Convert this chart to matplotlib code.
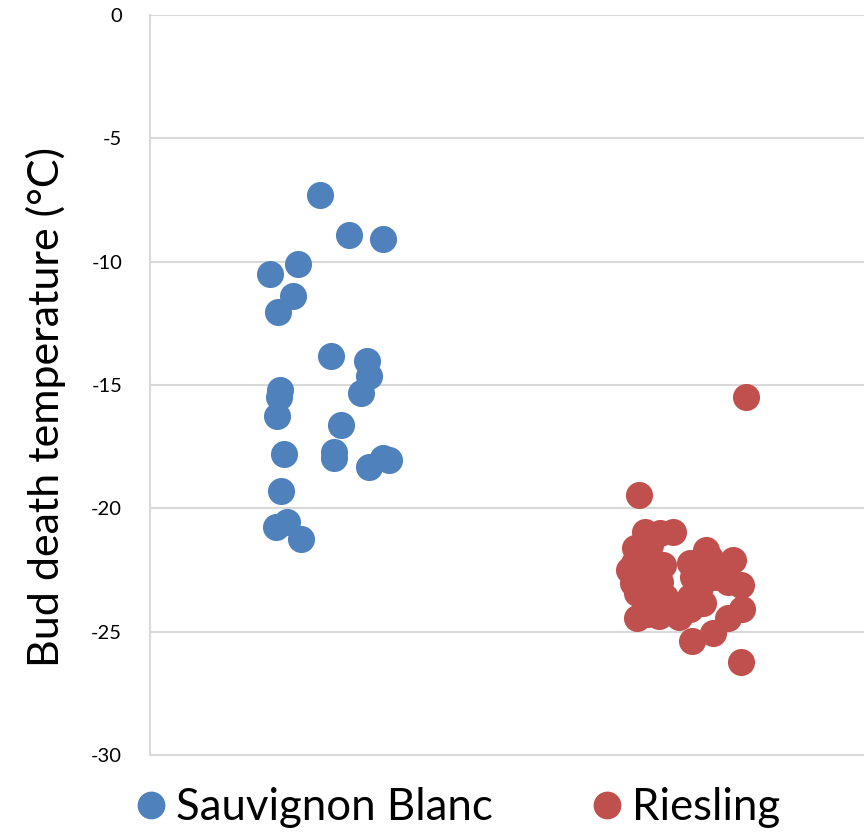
import numpy as np
import matplotlib.pyplot as plt
from matplotlib.lines import Line2D

# Bud death temperatures, x is a jittered position (Sauvignon ~0.5-1.0, Riesling ~2.0-2.5)
sauv_x = [0.714, 0.836, 0.979, 0.622, 0.504, 0.601, 0.538, 0.761, 0.912, 0.920,
          0.887, 0.546, 0.542, 0.534, 0.803, 0.563, 0.773, 0.773, 0.920, 0.979,
          1.004, 0.550, 0.529, 0.576, 0.634]
sauv_y = [-7.3, -8.92, -9.07, -10.08, -10.49, -11.40, -12.03, -13.82, -14.01, -14.62,
          -15.32, -15.2, -15.47, -16.24, -16.63, -17.78, -17.70, -17.97, -18.32, -17.96,
          -18.04, -19.31, -20.74, -20.54, -21.25]

ries_x = [2.504, 2.055, 2.080, 2.197, 2.143, 2.038, 2.013, 2.034, 2.029, 2.046,
          2.046, 2.139, 2.223, 2.277, 2.366, 2.429, 2.487, 2.483, 2.483, 2.450,
          2.336, 2.269, 2.282, 2.395, 2.324, 2.155, 2.143, 2.101, 2.101, 2.164,
          2.311, 2.353, 2.080, 2.269, 2.101, 2.059, 2.122, 2.092, 2.176, 2.311,
          2.374, 2.269, 2.429]
ries_y = [-15.5, -19.45, -20.94, -20.94, -21.0, -21.6, -22.5, -22.2, -23.04, -23.44,
          -24.44, -24.36, -24.4, -25.37, -25.05, -24.44, -24.08, -26.21, -23.1, -22.09,
          -21.7, -22.2, -22.77, -22.36, -23.85, -22.3, -23.0, -22.0, -23.8, -23.6,
          -23.2, -22.0, -24.0, -24.1, -21.5, -22.8, -23.3, -24.3, -24.0, -22.5,
          -22.8, -23.6, -23.0]

labels = ['Sauvignon Blanc', 'Riesling']
colors = ['#4F81BD', '#C0504D']
yticks = [0, -5, -10, -15, -20, -25, -30]

plt.rcParams['font.family'] = ['Lato', 'DejaVu Sans']
plt.rcParams['axes.unicode_minus'] = False

fig = plt.figure(figsize=(8.64, 8.32), dpi=100)
ax = fig.add_axes([150/864, 1-755/832, 1-150/864, 740/832])

ax.scatter(sauv_x, sauv_y, s=380, color=colors[0], linewidths=0, zorder=3)
ax.scatter(ries_x, ries_y, s=380, color=colors[1], linewidths=0, zorder=3)

ax.set_xlim(0, 3)
ax.set_ylim(-30, 0)
ax.set_yticks(yticks)
ax.set_xticks([])
ax.tick_params(axis='y', length=0, pad=20, labelsize=14.5)
ax.yaxis.grid(True, color='#D9D9D9', linewidth=1.5)
ax.set_axisbelow(True)
for side in ['top', 'right']:
    ax.spines[side].set_visible(False)
for side in ['left', 'bottom']:
    ax.spines[side].set_color('#D9D9D9')
    ax.spines[side].set_linewidth(1.5)

ax.set_ylabel('Bud death temperature (°C)', fontsize=31)
ax.yaxis.set_label_coords(-0.118, 0.47)

handles = [Line2D([], [], marker='o', linestyle='none', markersize=20,
                  markerfacecolor=c, markeredgewidth=0) for c in colors]
fig.legend(handles, labels, loc='center left', bbox_to_anchor=(138/864, 1-808/832),
           ncol=2, frameon=False, fontsize=31.5, handlelength=0.6,
           handletextpad=0.27, columnspacing=2.3, borderpad=0, borderaxespad=0)

fig.savefig('out.png', dpi=100)
